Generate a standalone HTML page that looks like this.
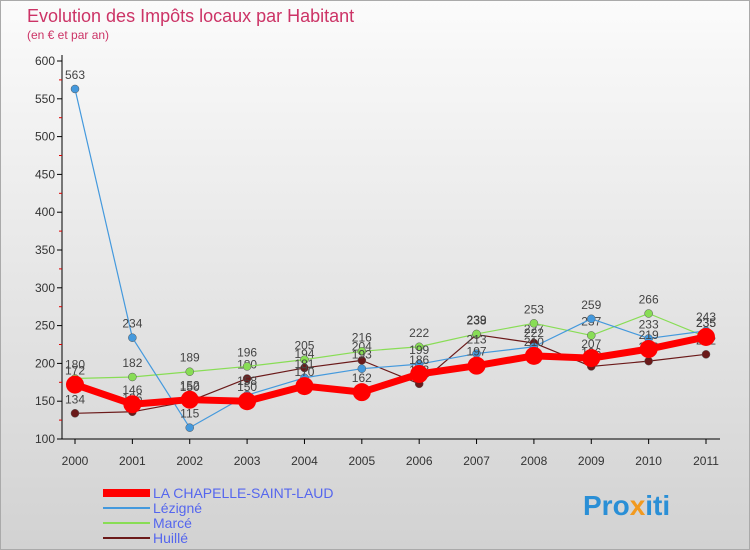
<!DOCTYPE html>
<html><head><meta charset="utf-8"><style>
body{margin:0}
svg{display:block;font-family:"Liberation Sans",sans-serif}
</style></head><body>
<svg width="750" height="550" viewBox="0 0 750 550">
<defs><linearGradient id="bg" x1="0" y1="0" x2="0" y2="1"><stop offset="0" stop-color="#fbfbfb"/><stop offset="1" stop-color="#d2d2d2"/></linearGradient></defs>
<rect x="0.5" y="0.5" width="749" height="549" fill="url(#bg)" stroke="#aaa"/>
<text x="27" y="22" font-size="18" fill="#cc3366">Evolution des Impôts locaux par Habitant</text>
<text x="27" y="39" font-size="12" fill="#cc3366">(en € et par an)</text>
<g id="axes"></g>
<g id="series"></g>
<g id="legend"></g>
<text x="583" y="515" font-size="28" font-weight="bold" fill="#2a8fd6">Pro<tspan fill="#f29a1f">x</tspan>iti</text>
</svg>
<script>
const years=[2000,2001,2002,2003,2004,2005,2006,2007,2008,2009,2010,2011];
const yTicks=[100,150,200,250,300,350,400,450,500,550,600];
const seriesNames=["LA CHAPELLE-SAINT-LAUD","Lézigné","Marcé","Huillé"];
const chapelle=[172,146,152,150,170,162,186,197,210,207,219,235];
const lezigne=[563,234,115,158,181,193,199,213,222,259,233,243];
const marce=[180,182,189,196,205,216,222,239,253,237,266,235];
const huille=[134,136,150,180,194,204,173,238,227,196,203,212];
const NS="http://www.w3.org/2000/svg";
const X=i=>75+i*(706-75)/11;
const Y=v=>439-(v-100)*(378/500);
function mk(t,a,p){const e=document.createElementNS(NS,t);for(const k in a)e.setAttribute(k,a[k]);p.appendChild(e);return e;}
const ax=document.getElementById('axes');
const yl=mk('line',{x1:62,y1:55,x2:62,y2:439,stroke:'#000'},ax);


const xl=mk('line',{x1:62,y1:439,x2:720,y2:439,stroke:'#000'},ax);


yTicks.forEach((v,i)=>{
  mk('line',{x1:57,y1:Y(v),x2:62,y2:Y(v),stroke:'#000'},ax);
  if(i<yTicks.length-1)mk('line',{x1:59,y1:Y(v+25),x2:62,y2:Y(v+25),stroke:'#d00'},ax);
  const t=mk('text',{x:55,y:Y(v)+4,'font-size':12,'text-anchor':'end',fill:'#333'},ax);
  t.textContent=v;
  
  
});
years.forEach((y,i)=>{
  mk('line',{x1:X(i),y1:439,x2:X(i),y2:444,stroke:'#000'},ax);
  const t=mk('text',{x:X(i),y:465,'font-size':12,'text-anchor':'middle',fill:'#333'},ax);
  t.textContent=y;
  
  
});
const sg=document.getElementById('series');
function draw(vals,color,w,r,name){
  const g=mk('g',{},sg);
  
  
  mk('polyline',{points:vals.map((v,i)=>X(i)+','+Y(v)).join(' '),fill:'none',stroke:color,'stroke-width':w,'stroke-linejoin':'round'},g);
  vals.forEach((v,i)=>{
    const c=mk('circle',{cx:X(i),cy:Y(v),r:r,fill:color,stroke:r<8?'#555':'none','stroke-width':0.5},g);
    
    
    const t=mk('text',{x:X(i),y:Y(v)-10,'font-size':12,'text-anchor':'middle',fill:'#444'},g);
    t.textContent=v;
    
    
  });
}
draw(huille,'#6b1a1a',1.2,4,'series-huille');
draw(marce,'#88dd55',1.2,4,'series-marce');
draw(lezigne,'#4499dd',1.2,4,'series-lezigne');
draw(chapelle,'#ff0000',7,9,'series-la-chapelle');
const lg=document.getElementById('legend');
const colors=['#ff0000','#4499dd','#88dd55','#6b1a1a'];
const widths=[8,2,2,2];
seriesNames.forEach((n,i)=>{
  const g=mk('g',{},lg);
  
  
  const yy=493+i*15;
  mk('line',{x1:103,y1:yy,x2:150,y2:yy,stroke:colors[i],'stroke-width':widths[i]},g);
  const t=mk('text',{x:153,y:yy+5,'font-size':14,fill:'#5566ee'},g);
  t.textContent=n;
});
</script>
</body></html>
